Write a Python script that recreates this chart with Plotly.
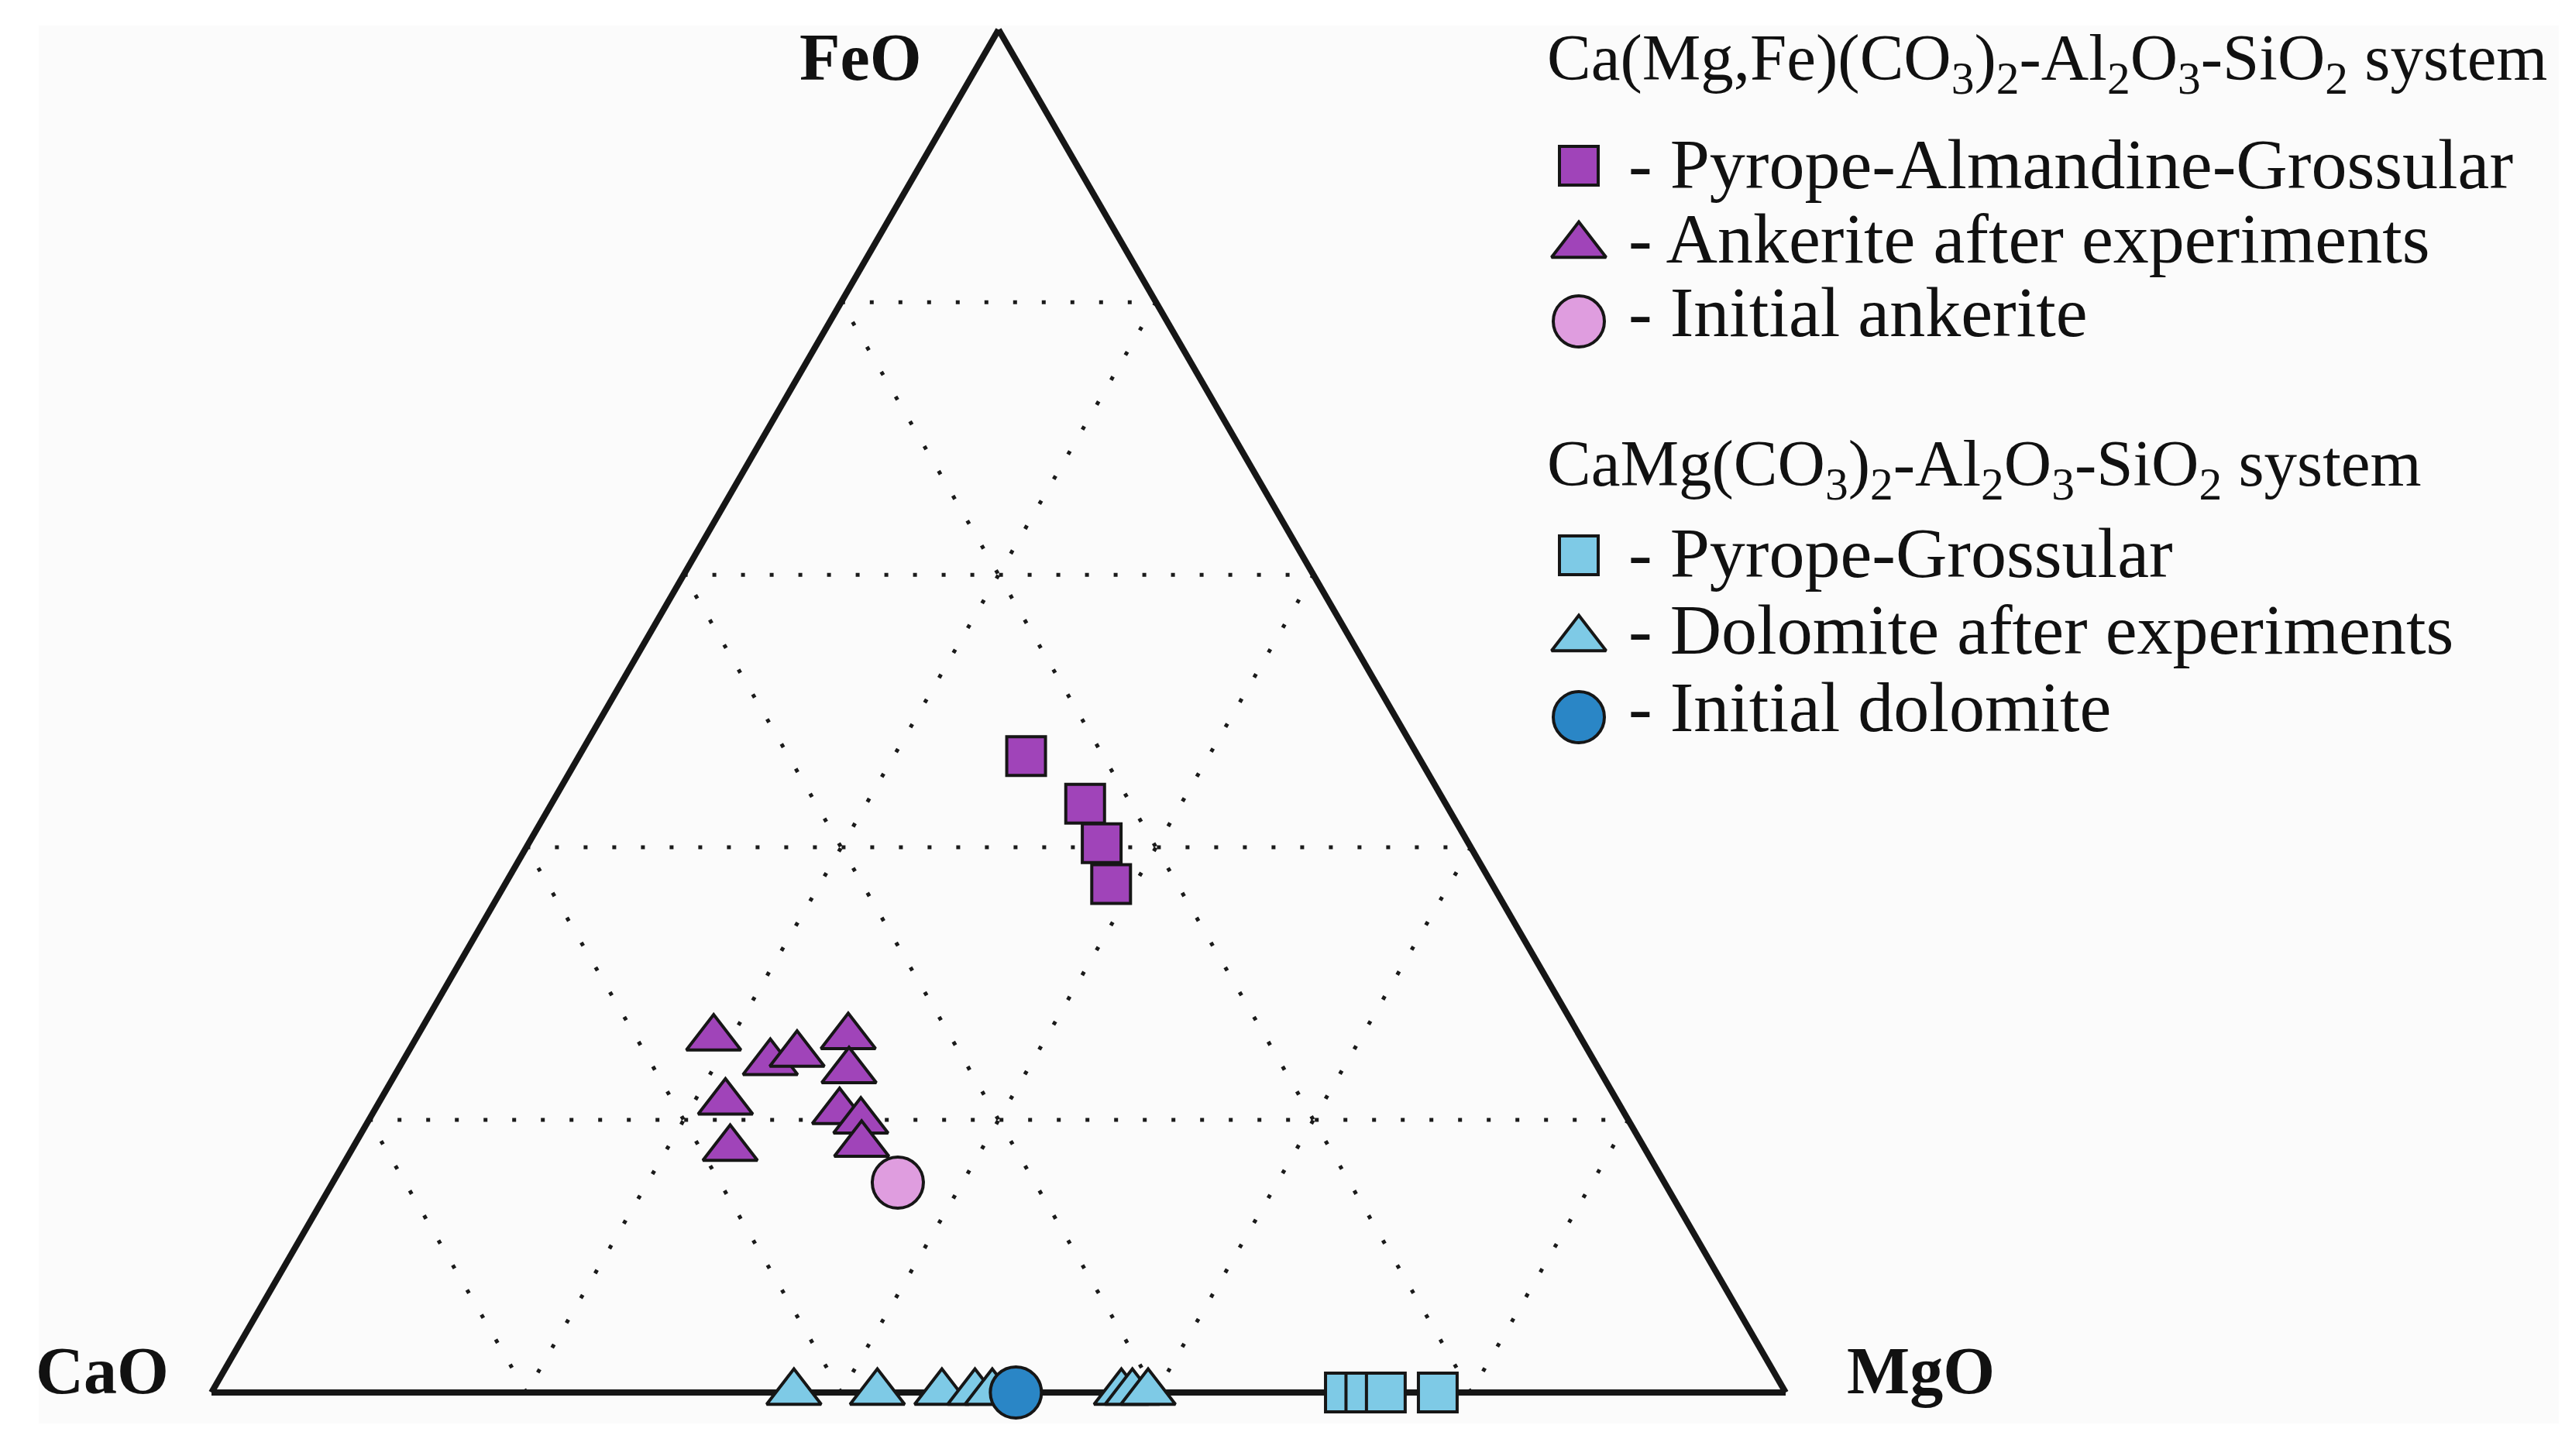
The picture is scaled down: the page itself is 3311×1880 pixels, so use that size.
import plotly.graph_objects as go

# ---------------- data (percent) ----------------
# Ca(Mg,Fe)(CO3)2-Al2O3-SiO2 system
pag_feo = [46.7, 43.2, 40.3, 37.3]
pag_cao = [24.9, 22.9, 23.3, 24.2]
pag_mgo = [28.4, 33.9, 36.4, 38.5]

ank_feo = [26.0, 24.2, 24.8, 26.1, 23.6, 21.3, 20.6, 19.9, 18.2, 17.9]
ank_cao = [55.1, 52.4, 50.4, 46.5, 47.7, 56.7, 49.8, 48.8, 49.6, 58.1]
ank_mgo = [18.9, 23.4, 24.8, 27.4, 28.7, 22.0, 29.6, 31.3, 32.2, 24.0]

ank0_feo = [15.4]
ank0_cao = [48.7]
ank0_mgo = [35.9]

# CaMg(CO3)2-Al2O3-SiO2 system
pg_feo = [0, 0, 0, 0]
pg_cao = [28.0, 26.7, 25.4, 22.1]
pg_mgo = [72.0, 73.3, 74.6, 77.9]

dol_feo = [0, 0, 0, 0, 0, 0, 0, 0]
dol_cao = [63.0, 57.7, 53.6, 51.5, 50.4, 42.2, 41.5, 40.5]
dol_mgo = [37.0, 42.3, 46.4, 48.5, 49.6, 57.8, 58.5, 59.5]

dol0_feo = [0]
dol0_cao = [48.9]
dol0_mgo = [51.1]

legend_titles = [
    "Ca(Mg,Fe)(CO<sub>3</sub>)<sub>2</sub>-Al<sub>2</sub>O<sub>3</sub>-SiO<sub>2</sub> system",
    "CaMg(CO<sub>3</sub>)<sub>2</sub>-Al<sub>2</sub>O<sub>3</sub>-SiO<sub>2</sub> system",
]
legend_labels = [
    "- Pyrope-Almandine-Grossular",
    "- Ankerite after experiments",
    "- Initial ankerite",
    "- Pyrope-Grossular",
    "- Dolomite after experiments",
    "- Initial dolomite",
]

# ---------------- style ----------------
W, H = 3311, 1880
OFF = 8  # page body margin of the rendered html
PURPLE = "#a044b9"
PINK = "#df9ddf"
LBLUE = "#7ecae6"
DBLUE = "#2a86c6"
EDGE = "#161616"
FONT = "Liberation Serif"

SQ, TRI, CIR = 50, 61, 66
LW = 4

styles = [
    ("square", PURPLE, SQ),
    ("triangle-up", PURPLE, TRI),
    ("circle", PINK, CIR),
    ("square", LBLUE, SQ),
    ("triangle-up", LBLUE, TRI),
    ("circle", DBLUE, CIR),
]

series = [
    (pag_feo, pag_cao, pag_mgo),
    (ank_feo, ank_cao, ank_mgo),
    (ank0_feo, ank0_cao, ank0_mgo),
    (pg_feo, pg_cao, pg_mgo),
    (dol_feo, dol_cao, dol_mgo),
    (dol0_feo, dol0_cao, dol0_mgo),
]

fig = go.Figure()

for (a, b, c), (sym, col, sz), name in zip(series, styles, legend_labels):
    fig.add_trace(go.Scatterternary(
        a=a, b=b, c=c, mode="markers", name=name, showlegend=False,
        cliponaxis=False, hoverinfo="skip",
        marker=dict(symbol=sym, size=sz, color=col,
                    line=dict(color=EDGE, width=LW)),
    ))

# legend swatches on a hidden pixel-space cartesian axis
LEG_X = 2038
LEG_Y = [214, 317, 415, 717, 825, 926]
for (sym, col, sz), y in zip(styles, LEG_Y):
    fig.add_trace(go.Scatter(
        x=[LEG_X], y=[y], mode="markers", showlegend=False, hoverinfo="skip",
        xaxis="x", yaxis="y",
        marker=dict(symbol=sym, size=sz, color=col,
                    line=dict(color=EDGE, width=LW)),
    ))

ax = dict(
    min=0, showline=True, linecolor=EDGE, linewidth=8,
    showgrid=True, gridcolor="#1a1a1a", gridwidth=5, griddash="5px,32px",
    tickmode="linear", tick0=0, dtick=20,
    showticklabels=False, ticks="", title=dict(text=""),
    layer="below traces",
)

x0, x1 = 273 - OFF, 2305 - OFF
tri_h = (x1 - x0) * 3 ** 0.5 / 2
base_y = 1798 - OFF
top_y = base_y - tri_h

fig.update_layout(
    width=W, height=H, autosize=False,
    margin=dict(l=0, r=0, t=0, b=0, pad=0),
    paper_bgcolor="white", plot_bgcolor="rgba(0,0,0,0)",
    showlegend=False,
    ternary=dict(
        sum=100,
        bgcolor="rgba(0,0,0,0)",
        domain=dict(x=[x0 / W, x1 / W], y=[(H - base_y) / H, (H - top_y) / H]),
        aaxis=ax, baxis=ax, caxis=ax,
    ),
    xaxis=dict(range=[OFF, W + OFF], visible=False, domain=[0, 1], fixedrange=True),
    yaxis=dict(range=[H + OFF, OFF], visible=False, domain=[0, 1], fixedrange=True),
    shapes=[dict(type="rect", xref="x", yref="y", x0=50, x1=W + OFF, y0=33, y1=1838,
                 fillcolor="#fbfbfb", line=dict(width=0), layer="below")],
)

ann = []
# corner labels
lab_font = dict(family=FONT, size=86, color="#111111", weight="bold")
ann.append(dict(text="FeO", x=1192, y=74, xref="x", yref="y", xanchor="right",
                yanchor="middle", showarrow=False, font=lab_font))
ann.append(dict(text="CaO", x=220, y=1770, xref="x", yref="y", xanchor="right",
                yanchor="middle", showarrow=False, font=lab_font))
ann.append(dict(text="MgO", x=2382, y=1770, xref="x", yref="y", xanchor="left",
                yanchor="middle", showarrow=False, font=lab_font))

# legend texts
TITLE_X = 1995
TEXT_X = 2100
TITLE_Y = [80, 604]
TEXT_Y = [212, 308, 403, 714, 813, 913]
for t, y in zip(legend_titles, TITLE_Y):
    ann.append(dict(text=t, x=TITLE_X, y=y, xref="x", yref="y", xanchor="left",
                    yanchor="middle", showarrow=False,
                    font=dict(family=FONT, size=85, color="#111111")))
for t, y in zip(legend_labels, TEXT_Y):
    ann.append(dict(text=t, x=TEXT_X, y=y, xref="x", yref="y", xanchor="left",
                    yanchor="middle", showarrow=False,
                    font=dict(family=FONT, size=92, color="#111111")))

fig.update_layout(annotations=ann)
fig.write_html("out.html")
